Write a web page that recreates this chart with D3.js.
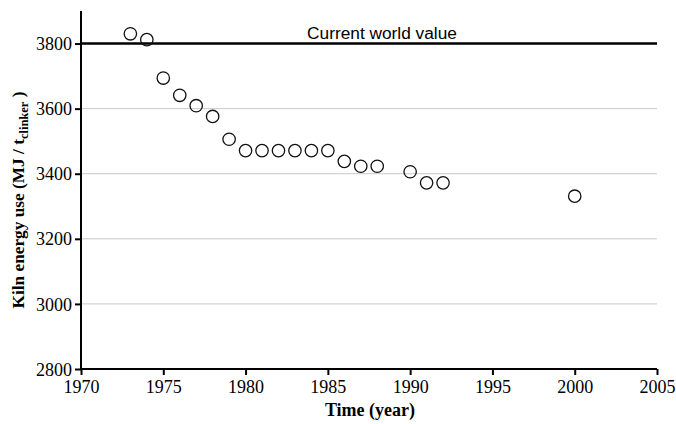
<!DOCTYPE html>
<html>
<head>
<meta charset="utf-8">
<script src="https://cdn.jsdelivr.net/npm/d3@7/dist/d3.min.js"></script>
<style>
  html, body { margin: 0; padding: 0; background: #fff; }
  svg { display: block; }
</style>
</head>
<body>
<svg id="chart" width="676" height="424"></svg>
<script>
// Kiln energy use per tonne of clinker, by year
const years  = [1973, 1974, 1975, 1976, 1977, 1978, 1979, 1980, 1981, 1982, 1983, 1984, 1985, 1986, 1987, 1988, 1990, 1991, 1992, 2000];
const energy = [3830, 3812, 3694, 3641, 3609, 3576, 3506, 3471, 3471, 3471, 3471, 3471, 3471, 3438, 3423, 3423, 3406, 3372, 3372, 3331];
const worldValue = 3800;
const worldLabel = "Current world value";
const xTicks = [1970, 1975, 1980, 1985, 1990, 1995, 2000, 2005];
const yTicks = [2800, 3000, 3200, 3400, 3600, 3800];
const gridValues = [3000, 3200, 3400, 3600];

const svg = d3.select("#chart");
const plotLeft = 81, plotRight = 657, plotTop = 11, plotBottom = 369;

const x = d3.scaleLinear().domain([1970, 2005]).range([plotLeft, plotRight]);
const y = d3.scaleLinear().domain([2800, 3900]).range([plotBottom, plotTop]);

const serif = "'Liberation Serif', 'Times New Roman', serif";
const sans = "'Liberation Sans', Arial, sans-serif";

// light horizontal gridlines
svg.append("g").selectAll("line").data(gridValues).join("line")
  .attr("x1", plotLeft).attr("x2", plotRight)
  .attr("y1", d => y(d)).attr("y2", d => y(d))
  .attr("stroke", "#c8c8c8").attr("stroke-width", 1);

// reference line for the current world value
svg.append("line")
  .attr("x1", plotLeft).attr("x2", plotRight)
  .attr("y1", y(worldValue)).attr("y2", y(worldValue))
  .attr("stroke", "#000").attr("stroke-width", 2.6);
svg.append("text")
  .attr("x", 382).attr("y", y(worldValue) - 5)
  .attr("text-anchor", "middle")
  .attr("font-family", sans).attr("font-size", 17.3)
  .text(worldLabel);

// axes
const xAxis = svg.append("g")
  .attr("transform", `translate(0,${plotBottom})`)
  .call(d3.axisBottom(x).tickValues(xTicks).tickFormat(d3.format("d")).tickSize(6).tickPadding(5));
const yAxis = svg.append("g")
  .attr("transform", `translate(${plotLeft},0)`)
  .call(d3.axisLeft(y).tickValues(yTicks).tickFormat(d3.format("d")).tickSize(6).tickPadding(3));

[xAxis, yAxis].forEach(g => {
  g.select(".domain").attr("stroke", "#000").attr("stroke-width", 2);
  g.selectAll(".tick line").attr("stroke", "#000").attr("stroke-width", 2);
  g.selectAll(".tick text").attr("fill", "#000")
    .attr("font-family", serif).attr("font-size", 18);
});
// y axis line continues to the top of the plot
yAxis.select(".domain").attr("d", `M0,${y(2800)}V${plotTop}`);
xAxis.select(".domain").attr("d", `M${plotLeft},0H${plotRight}`);
yAxis.selectAll(".tick text").attr("dy", "0.34em");

// data points: open circles
svg.append("g").selectAll("circle").data(years.map((yr, i) => [yr, energy[i]])).join("circle")
  .attr("cx", d => x(d[0])).attr("cy", d => y(d[1]))
  .attr("r", 6.2)
  .attr("fill", "none").attr("stroke", "#111").attr("stroke-width", 1.3);

// axis titles
svg.append("text")
  .attr("x", 370).attr("y", 416)
  .attr("text-anchor", "middle")
  .attr("font-family", serif).attr("font-size", 18).attr("font-weight", "bold")
  .text("Time (year)");

const yTitle = svg.append("text")
  .attr("transform", "translate(24,200) rotate(-90)")
  .attr("text-anchor", "middle")
  .attr("font-family", serif).attr("font-size", 17.3).attr("font-weight", "bold");
yTitle.append("tspan").text("Kiln energy use (MJ / t");
yTitle.append("tspan").attr("font-size", 12.5).attr("dy", 4).text("clinker");
yTitle.append("tspan").attr("dy", -4).text(" )");
</script>
</body>
</html>
